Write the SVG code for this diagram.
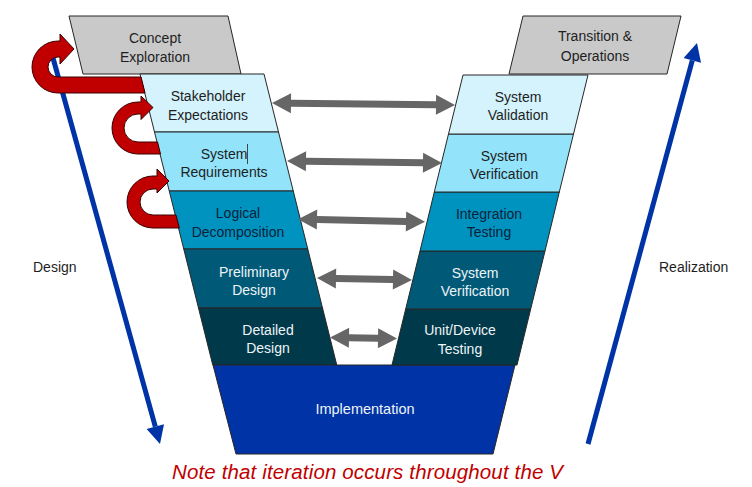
<svg xmlns="http://www.w3.org/2000/svg" width="752" height="487" viewBox="0 0 752 487">
<style>
.box{stroke:#262626;stroke-width:1}
.t{font-family:"Liberation Sans",Arial,sans-serif;font-size:14px;text-anchor:middle}
.dk{fill:#1e1e1e}
.nv{fill:#0d2238}
.wh{fill:#eef4f7}
.gr{fill:#666666}
.red{fill:#c00000;stroke:#3a0000;stroke-width:1}
.blue{fill:#0033a6}
.bl{stroke:#0033a6;stroke-width:5;fill:none}
</style>
<rect width="752" height="487" fill="#ffffff"/>

<g id="design-axis">
<line class="bl" x1="53" y1="58" x2="155.3" y2="426.6"/>
<polygon class="blue" points="160,444 164,424.2 146.6,429"/>
</g>
<g id="realization-axis">
<line class="bl" x1="588" y1="444" x2="692.3" y2="60.4"/>
<polygon class="blue" points="697,43 701,62.8 683.6,58"/>
</g>

<g id="concept-exploration">
<polygon class="box" fill="#c9c9c9" points="69,16 228,16 241,74 83,74"/>
<text class="t dk" x="155" y="43">Concept</text>
<text class="t dk" x="155" y="62">Exploration</text>
</g>
<g id="stakeholder-expectations">
<polygon class="box" fill="#d4f3fc" points="140,74 264,74 278.5,132 154.5,132"/>
<text class="t dk" x="208" y="101">Stakeholder</text>
<text class="t dk" x="208" y="119.5">Expectations</text>
</g>
<g id="system-requirements">
<polygon class="box" fill="#93e3fa" points="154.5,132 278.5,132 293.25,191 169.25,191"/>
<text class="t dk" x="224" y="158.5">System</text>
<text class="t dk" x="224" y="177">Requirements</text>
<line x1="247.5" y1="144" x2="247.5" y2="164" stroke="#444" stroke-width="1"/>
</g>
<g id="logical-decomposition">
<polygon class="box" fill="#0093c0" points="169.25,191 293.25,191 307.75,249 183.75,249"/>
<text class="t nv" x="238" y="218">Logical</text>
<text class="t nv" x="238" y="236.5">Decomposition</text>
</g>
<g id="preliminary-design">
<polygon class="box" fill="#005a77" points="183.75,249 307.75,249 322.5,308 198.5,308"/>
<text class="t wh" x="254" y="277">Preliminary</text>
<text class="t wh" x="254" y="295">Design</text>
</g>
<g id="detailed-design">
<polygon class="box" fill="#003a4a" points="198.5,308 322.5,308 336.75,365 212.75,365"/>
<text class="t wh" x="268" y="334.5">Detailed</text>
<text class="t wh" x="268" y="353">Design</text>
</g>
<g id="implementation">
<polygon class="box" fill="#0033a6" points="213,365 515,365 493,454 236,454"/>
<text class="t wh" x="365" y="413.5" style="font-size:14.5px">Implementation</text>
</g>
<g id="unit-device-testing">
<polygon class="box" fill="#003a4a" points="405.7,309 530.7,309 517,365 392,365"/>
<text class="t wh" x="460" y="335">Unit/Device</text>
<text class="t wh" x="460" y="353.5">Testing</text>
</g>
<g id="system-verification-2">
<polygon class="box" fill="#005a77" points="420,251 545,251 530.7,309 405.7,309"/>
<text class="t wh" x="475" y="277.5">System</text>
<text class="t wh" x="475" y="295.5">Verification</text>
</g>
<g id="integration-testing">
<polygon class="box" fill="#0093c0" points="434.3,192 559.3,192 545,251 420,251"/>
<text class="t nv" x="489" y="219">Integration</text>
<text class="t nv" x="489" y="237">Testing</text>
</g>
<g id="system-verification-1">
<polygon class="box" fill="#93e3fa" points="448.5,134 573.5,134 559.3,192 434.3,192"/>
<text class="t dk" x="504" y="160.5">System</text>
<text class="t dk" x="504" y="178.5">Verification</text>
</g>
<g id="system-validation">
<polygon class="box" fill="#d4f3fc" points="463,75 588,75 573.5,134 448.5,134"/>
<text class="t dk" x="518" y="102">System</text>
<text class="t dk" x="518" y="120">Validation</text>
</g>
<g id="transition-operations">
<polygon class="box" fill="#c9c9c9" points="523,16 681,16 667,74 509,74"/>
<text class="t dk" x="595" y="41">Transition &amp;</text>
<text class="t dk" x="595" y="61">Operations</text>
</g>

<g id="connectors">
<g class="gr">
<path transform="rotate(0.6 363 104)" d="M272 104 L291 94 L291 100.5 L436 100.5 L436 94 L455 104 L436 114 L436 107.5 L291 107.5 L291 114 Z"/>
<path transform="rotate(0.7 364 162)" d="M287 162 L306 152 L306 158.5 L423 158.5 L423 152 L442 162 L423 172 L423 165.5 L306 165.5 L306 172 Z"/>
<path transform="rotate(1.2 361 220.5)" d="M298 220.5 L317 210.5 L317 217 L406 217 L406 210.5 L425 220.5 L406 230.5 L406 224 L317 224 L317 230.5 Z"/>
<path transform="rotate(1.1 364 279)" d="M317 279 L336 269 L336 275.5 L393 275.5 L393 269 L412 279 L393 289 L393 282.5 L336 282.5 L336 289 Z"/>
<path transform="rotate(0.8 363 338)" d="M330 338 L349 328 L349 334.5 L378 334.5 L378 328 L397 338 L378 348 L378 341.5 L349 341.5 L349 348 Z"/>
</g>
<path class="red" d="M141 77 L58 77 A10 10 0 0 1 58 57 L60 57 L60 64 L74 49 L60 34 L60 41 L58 41 A26 26 0 0 0 58 93 L145 93 Z"/>
<path class="red" d="M157.5 142 L138 142 A14 14 0 0 1 138 114 L141 114 L141 119.5 L153 107.5 L141 96 L141 102 L138 102 A26 26 0 0 0 138 154 L160.5 154 Z"/>
<path class="red" d="M176 215 L153 215 A13 13 0 0 1 153 189 L157 189 L157 193 L169 181 L157 169 L157 176 L153 176 A26 26 0 0 0 153 228 L179.4 228 Z"/>
</g>

<g id="labels">
<text x="33" y="271.5" style="font-family:'Liberation Sans',Arial,sans-serif;font-size:14px;fill:#1e1e1e">Design</text>
<text x="659" y="271.5" style="font-family:'Liberation Sans',Arial,sans-serif;font-size:14px;fill:#1e1e1e">Realization</text>
<text x="367.5" y="479" text-anchor="middle" textLength="391" style="font-family:'Liberation Sans',Arial,sans-serif;font-size:20.5px;font-style:italic;fill:#c00000">Note that iteration occurs throughout the V</text>
</g>
</svg>
